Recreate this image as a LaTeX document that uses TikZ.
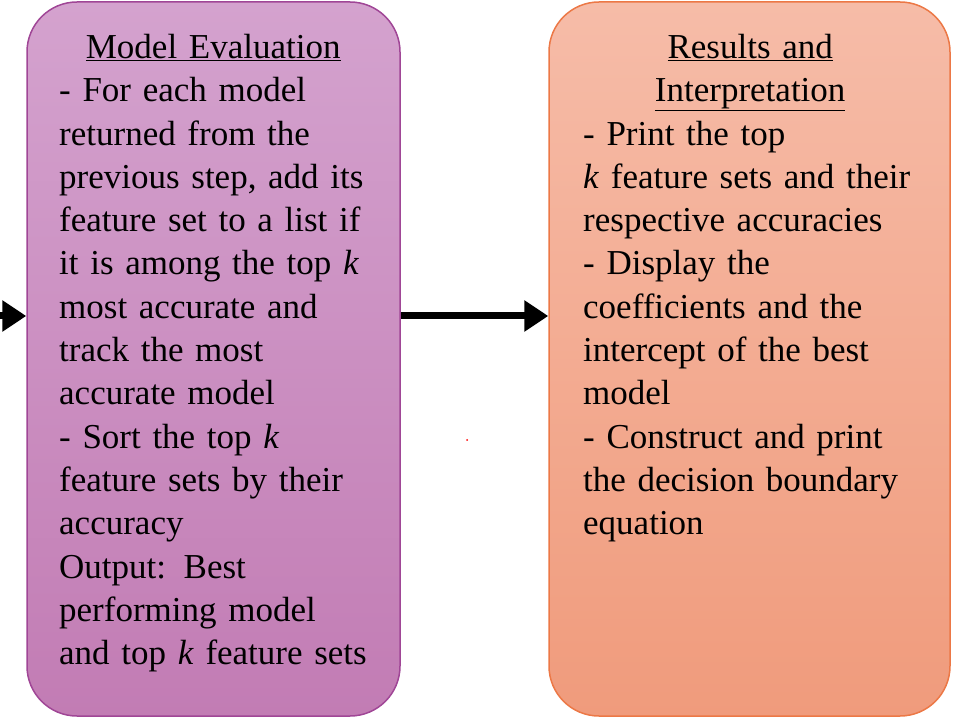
\documentclass[tikz,border=0pt]{standalone}
\usepackage{fontspec}
\setmainfont{Liberation Serif}
\usetikzlibrary{positioning,arrows.meta}
\definecolor{evaltop}{RGB}{212,162,206}
\definecolor{evalbot}{RGB}{194,124,180}
\definecolor{evalline}{RGB}{160,70,150}
\definecolor{restop}{RGB}{246,188,168}
\definecolor{resbot}{RGB}{240,155,124}
\definecolor{resline}{RGB}{236,120,70}
\tikzset{
  stagebox/.style={draw, line width=1.5pt, rounded corners=50pt, minimum height=714pt},
  stagetext/.style={anchor=north west, inner sep=0pt, text width=345pt, align=left,
    font=\fontsize{35}{43.3}\selectfont},
  flow/.style={line width=7pt, -{Triangle[length=24pt,width=30pt]}}
}
\begin{document}
\begin{tikzpicture}[x=1pt,y=1pt]
    \useasboundingbox (0,0) rectangle (970,-727);

    % Boxes
    \node (eval) [stagebox, draw=evalline, top color=evaltop, bottom color=evalbot,
      minimum width=373pt] at (213.5,-359) {};
    \node (res) [stagebox, draw=resline, top color=restop, bottom color=resbot,
      minimum width=401pt] at (749.5,-359) {};

    % Texts
    \node (evaltxt) [stagetext] at (59,-34) {%
      \makebox[308pt]{\underline{Model Evaluation}}\\
      - For each model\\ returned from the\\ previous step, add its\\
      feature set to a list if\\ it is among the top \textit{k}\\
      most accurate and\\ track the most\\ accurate model\\
      - Sort the top \textit{k}\\ feature sets by their\\ accuracy\\
      Output: Best\\ performing model\\ and top \textit{k} feature sets};
    \node (restxt) [stagetext] at (583,-34) {%
      \makebox[334pt]{\underline{Results and}}\\
      \makebox[334pt]{\underline{Interpretation}}\\
      - Print the top\\ \textit{k} feature sets and their\\
      respective accuracies\\ - Display the\\ coefficients and the\\
      intercept of the best\\ model\\ - Construct and print\\
      the decision boundary\\ equation};

    % Arrows
    \coordinate (inlet) at (-4,-316);
    \draw[flow] (inlet) -- (eval.west |- inlet);
    \draw[flow] (eval.east |- inlet) -- (res.west |- inlet);

    % Stray dot
    \node (dot) [circle, fill=red, inner sep=0pt, minimum size=2pt] at (467,-440) {};
\end{tikzpicture}
\end{document}
